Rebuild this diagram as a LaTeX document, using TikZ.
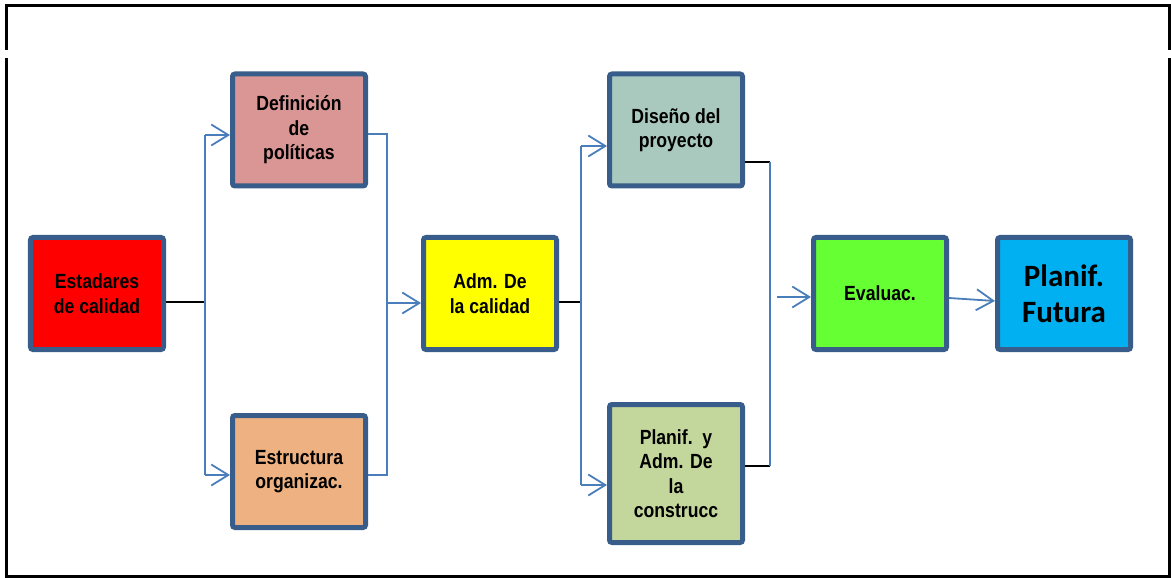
\documentclass[tikz,border=0pt]{standalone}
\usepackage{fontspec}
\usetikzlibrary{arrows.meta}
\newfontfamily\boxfont{Liberation Sans}[FakeStretch=0.86]
\newfontfamily\bigfont{Carlito}

\definecolor{boxedge}{HTML}{385D8A}
\definecolor{flowblue}{HTML}{4A7EBB}
\definecolor{cRed}{HTML}{FF0000}
\definecolor{cPink}{HTML}{D99694}
\definecolor{cPeach}{HTML}{EEB182}
\definecolor{cYellow}{HTML}{FFFF00}
\definecolor{cSage}{HTML}{A9C9BF}
\definecolor{cOlive}{HTML}{C3D69B}
\definecolor{cLime}{HTML}{66FF33}
\definecolor{cSky}{HTML}{00B0F0}

\tikzset{
  stagebox/.style={draw=boxedge, line width=5bp, rounded corners=2.5bp,
    minimum width=133bp, minimum height=112bp, inner sep=0pt,
    align=center, text=black,
    font=\boxfont\bfseries\fontsize{20.5bp}{24.5bp}\selectfont},
  flow/.style={draw=flowblue, line width=1.8bp},
  link/.style={draw=black, line width=1.6bp},
  barb/.style={-{Straight Barb[length=17bp, width=21bp]}},
  frame/.style={draw=black, line width=3bp},
}

\begin{document}
\begin{tikzpicture}[x=1bp, y=-1bp]
  \useasboundingbox (0,0) rectangle (1171,578);

  % outer frame, open at both sides just below the header strip
  \draw[frame] (6,50) -- (6,6) -- (1169,6) -- (1169,50);
  \draw[frame] (6,58) -- (6,576) -- (1169,576) -- (1169,58);

  % stages
  \node[stagebox, fill=cRed]    (est) at (97,293.5)  {Estadares\\de calidad};
  \node[stagebox, fill=cPink]   (def) at (299,130)   {Definición\\de\\políticas};
  \node[stagebox, fill=cPeach]  (org) at (299,471.5) {Estructura\\organizac.};
  \node[stagebox, fill=cYellow] (adm) at (490,293.5) {Adm. De\\la calidad};
  \node[stagebox, fill=cSage]   (dis) at (676,130)   {Diseño del\\proyecto};
  \node[stagebox, fill=cOlive, minimum height=138bp]
                                (pla) at (676,473.5) {Planif.\ \ y\\Adm. De\\la\\construcc};
  \node[stagebox, fill=cLime]   (eva) at (880,293.5) {Evaluac.};
  \node[stagebox, fill=cSky, font=\bigfont\bfseries\fontsize{31bp}{36bp}\selectfont]
                                (fut) at (1064,293.5) {Planif.\\Futura};

  % junction points
  \coordinate (s1) at (205,302);
  \coordinate (s1t) at (205,135);
  \coordinate (s1b) at (205,475);
  \coordinate (m1t) at (387,134);
  \coordinate (m1b) at (387,475);
  \coordinate (m1) at (387,303);
  \coordinate (s2) at (581,302);
  \coordinate (s2t) at (581,146);
  \coordinate (s2b) at (581,485);
  \coordinate (m2t) at (770,162);
  \coordinate (m2b) at (770,466);
  \coordinate (e0) at (777,297);

  % first split
  \draw[link] (est.east |- s1) -- (s1);
  \draw[flow] (s1t) -- (s1b);
  \draw[flow, barb] (s1t) -- (def.west |- s1t);
  \draw[flow, barb] (s1b) -- (org.west |- s1b);

  % first merge
  \draw[flow] (def.east |- m1t) -- (m1t) -- (m1b) -- (org.east |- m1b);
  \draw[flow, barb] (m1) -- (adm.west |- m1);

  % second split
  \draw[link] (adm.east |- s2) -- (s2);
  \draw[flow] (s2t) -- (s2b);
  \draw[flow, barb] (s2t) -- (dis.west |- s2t);
  \draw[flow, barb] (s2b) -- (pla.west |- s2b);

  % second merge
  \draw[link] (dis.east |- m2t) -- (m2t);
  \draw[link] (pla.east |- m2b) -- (m2b);
  \draw[flow] (m2t) -- (m2b);
  \draw[flow, barb] (e0) -- (eva.west |- e0);

  % evaluation to future planning
  \draw[flow, barb] ([yshift=-4.5bp]eva.east) -- ([yshift=-7.5bp]fut.west);
\end{tikzpicture}
\end{document}
